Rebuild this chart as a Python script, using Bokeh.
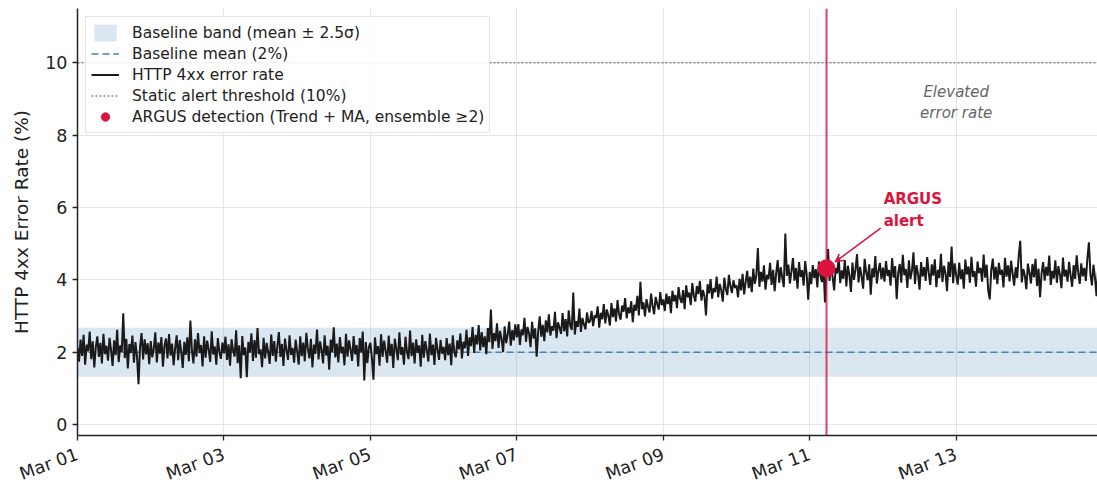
import math
import pandas as pd
from bokeh.plotting import figure
from bokeh.models import Span, Label, Arrow, OpenHead, FixedTicker, DatetimeTickFormatter
from bokeh.embed import file_html
from bokeh.resources import INLINE

# ---- data (30-minute HTTP 4xx error rate, %) ----
start = "2024-03-01 00:00"
step = "30min"
mar01 = [2.12,1.74,2.35,1.90,2.48,1.66,2.21,2.03,2.57,1.81,2.30,1.58,2.14,2.44,1.87,2.26,1.69,2.51,1.95,2.18,1.77,2.40,2.06,1.62,
         2.33,1.92,2.62,1.73,2.19,2.01,3.08,1.84,2.37,1.55,2.23,1.98,2.46,1.71,2.28,1.89,1.12,2.15,2.53,1.80,2.36,1.94,2.25,1.67]
mar02 = [2.31,1.86,2.09,2.55,1.72,2.27,1.96,2.42,1.60,2.17,2.38,1.83,2.50,1.91,2.24,1.64,2.11,2.47,1.78,2.34,2.02,1.57,2.29,1.93,
         2.41,1.75,2.88,2.05,1.69,2.36,1.88,2.53,1.98,2.20,1.61,2.44,1.85,2.32,2.07,1.73,2.58,1.94,2.16,1.66,2.39,2.01,1.82,2.27]
mar03 = [1.97,2.43,1.79,2.22,1.63,2.36,2.04,1.88,2.61,1.70,2.19,1.28,2.45,1.92,2.13,1.31,2.29,1.99,2.52,1.76,2.34,1.85,2.67,1.95,
         2.08,1.59,2.40,1.83,2.26,2.00,1.68,2.49,1.90,2.31,1.74,2.16,2.56,1.87,2.23,1.62,2.38,2.05,1.79,2.47,1.93,2.12,1.71,2.35]
mar04 = [2.02,1.66,2.44,1.89,2.27,1.75,2.54,2.10,1.83,2.37,1.58,2.21,1.96,2.63,1.80,2.30,2.06,1.69,2.47,1.91,2.18,1.52,2.35,2.01,
         2.69,1.86,2.24,1.72,2.42,1.97,2.15,1.64,2.51,1.88,2.33,2.07,1.76,2.45,1.94,2.20,1.61,2.39,1.99,2.57,1.22,2.28,1.70,2.14]
mar05 = [2.26,1.84,1.24,2.41,1.95,2.17,1.63,2.50,1.87,2.32,2.03,1.71,2.46,1.90,2.23,1.57,2.38,2.09,1.78,2.55,1.93,2.14,1.66,2.43,
         2.00,1.81,2.60,1.89,2.27,1.69,2.36,1.98,2.19,1.60,2.48,1.85,2.31,2.05,1.74,2.52,1.92,2.21,1.65,2.40,2.08,1.79,2.34,1.96]
mar06 = [2.15,1.78,2.39,1.92,2.24,1.64,2.47,2.01,1.86,2.33,2.08,2.52,1.83,2.29,2.11,2.62,1.90,2.41,2.17,2.70,1.98,2.48,2.22,2.75,
         2.05,2.56,2.14,2.44,1.95,2.67,2.28,3.18,2.09,2.53,2.31,2.80,2.12,2.59,2.36,2.01,2.72,2.25,2.49,2.85,2.18,2.61,2.33,2.77]
mar07 = [2.41,2.78,2.20,2.63,2.47,2.95,2.29,2.70,2.52,2.14,2.84,2.38,2.66,1.88,2.57,2.99,2.43,2.76,2.31,2.88,2.55,3.05,2.46,2.72,
         2.60,3.12,2.39,2.83,2.67,2.51,3.08,2.58,2.92,2.44,3.16,2.73,2.62,3.65,2.49,2.86,2.70,3.21,2.56,2.95,2.77,2.63,3.10,2.81]
mar08 = [2.86,3.14,2.72,3.02,2.95,3.27,2.68,3.09,2.91,3.33,2.80,3.18,3.01,2.74,3.36,2.97,3.21,2.85,3.44,3.06,2.90,3.29,3.12,3.50,
         2.94,3.24,3.08,3.41,2.83,3.31,3.15,3.56,3.02,3.95,3.19,3.38,2.99,3.47,3.25,3.10,3.62,3.28,3.05,3.53,3.34,3.18,3.66,3.30]
mar09 = [3.46,3.14,3.62,3.33,3.55,3.08,3.70,3.41,3.58,3.22,3.80,3.49,3.36,3.72,3.19,3.85,3.52,3.65,3.30,3.91,3.57,3.40,3.83,3.61,
         3.97,3.43,3.72,3.55,3.02,3.88,3.63,4.02,3.48,3.77,3.66,4.09,3.52,3.89,3.71,3.40,4.06,3.75,3.58,4.14,3.83,3.64,3.99,3.78]
mar10 = [3.85,3.52,4.03,3.71,4.17,3.60,3.94,4.25,3.77,4.09,3.66,4.31,3.89,4.12,4.88,3.81,4.22,3.95,4.40,3.73,4.14,4.02,4.47,3.86,
         4.28,3.69,4.19,4.55,3.92,4.35,4.06,3.80,5.28,4.11,4.42,3.90,4.24,4.60,3.98,4.33,3.76,4.49,4.08,4.27,3.84,4.52,4.15,3.45]
mar11 = [4.22,3.88,4.41,4.05,4.30,3.79,4.51,4.12,3.94,4.37,3.38,4.20,4.85,3.97,4.45,4.08,3.71,4.33,4.18,4.62,3.91,4.26,4.03,4.55,
         3.82,4.39,4.14,3.67,4.48,4.00,4.29,4.71,3.93,4.36,4.10,3.76,4.58,4.21,3.99,4.43,3.59,4.32,4.07,4.66,3.90,4.24,4.47,4.02]
mar12 = [4.34,3.95,4.52,4.11,4.27,3.84,4.60,4.06,4.38,3.47,4.19,4.44,3.92,4.69,4.13,4.30,3.78,4.54,4.02,4.25,4.76,3.89,4.41,4.16,
         3.73,4.49,4.09,4.35,3.97,4.63,4.20,3.86,4.43,4.12,4.57,3.80,4.28,4.05,4.72,3.94,4.39,4.18,3.69,4.50,4.08,4.92,3.91,4.46]
mar13 = [4.13,3.87,4.48,4.02,4.29,3.76,4.56,4.15,4.37,3.92,4.64,4.08,4.24,3.81,4.51,4.19,4.33,3.95,4.70,4.06,4.42,3.71,3.46,4.27,
         4.59,4.01,4.36,3.88,4.47,4.14,4.28,3.79,4.61,4.09,4.40,3.96,4.53,4.17,3.84,4.35,4.05,4.66,5.08,3.93,4.30,4.12,3.74,4.45]
mar14 = [4.21,3.90,4.44,4.07,4.58,3.83,4.31,3.52,4.19,4.49,3.98,4.36,4.11,4.67,3.86,4.25,4.04,4.54,3.92,4.38,4.15,3.77,4.62,4.09,
         4.28,3.95,4.50,4.13,3.81,4.41,4.03,4.68,4.20,3.89,4.46,4.10,4.33,3.97,4.59,5.04,4.16,3.85,4.42,4.06,3.55,4.27,4.00,4.35]

error_rate = mar01 + mar02 + mar03 + mar04 + mar05 + mar06 + mar07 + mar08 + mar09 + mar10 + mar11 + mar12 + mar13 + mar14
baseline_mean = 2.0
baseline_sigma = 0.27
band_k = 2.5
threshold = 10.0
alert_time = "2024-03-11 05:30"
alert_value = 4.32
tick_dates = ["2024-03-01", "2024-03-03", "2024-03-05", "2024-03-07", "2024-03-09", "2024-03-11", "2024-03-13"]
y_ticks = [0, 2, 4, 6, 8, 10]

# ---- build ----
times = pd.date_range(start, periods=len(error_rate), freq=step)
t0 = times[0]
t_end = t0 + pd.Timedelta(days=13.93)

def ms(t):
    return pd.Timestamp(t).value / 1e6

DAY = 86400000
FONT = "DejaVu Sans"
CRIMSON = "#dc143c"
INK = "#222222"

p = figure(frame_width=1020, frame_height=427, x_axis_type="datetime",
           x_range=(t0, t_end), y_range=(-0.3, 11.5),
           output_backend="svg", toolbar_location=None,
           min_border_left=77, min_border_right=0, min_border_top=8, min_border_bottom=52)
p.outline_line_color = None
p.background_fill_color = "white"

band_x = [t0, times[-1]]
p.varea(x=band_x, y1=[baseline_mean - band_k * baseline_sigma] * 2,
        y2=[baseline_mean + band_k * baseline_sigma] * 2,
        fill_color="#4682b4", fill_alpha=0.2,
        legend_label="Baseline band (mean \u00b1 2.5\u03c3)")
p.line(x=band_x, y=[baseline_mean] * 2, line_color="#4682b4", line_width=1.6,
       line_dash="7 4", legend_label="Baseline mean (2%)")
p.line(x=times, y=error_rate, line_color="#1a1a1a", line_width=2.0,
       legend_label="HTTP 4xx error rate")
p.line(x=[t0, t_end], y=[threshold] * 2, line_color="#808080", line_width=1.4,
       line_dash="2 2", line_alpha=0.9, legend_label="Static alert threshold (10%)")

p.add_layout(Span(location=ms(alert_time), dimension="height", line_color=CRIMSON,
                  line_width=2, line_alpha=0.8))
p.scatter(x=[pd.Timestamp(alert_time)], y=[alert_value], size=17, fill_color=CRIMSON,
          line_color=CRIMSON, legend_label="ARGUS detection (Trend + MA, ensemble \u22652)")

p.add_layout(Arrow(end=OpenHead(size=8, line_color=CRIMSON, line_width=1.5),
                   x_start=ms(alert_time) + 0.74 * DAY, y_start=5.43,
                   x_end=ms(alert_time) + 0.12 * DAY, y_end=4.5,
                   line_color=CRIMSON, line_width=1.5))
p.add_layout(Label(x=ms(alert_time) + 0.78 * DAY, y=5.93, text="ARGUS\nalert",
                   text_font=FONT, text_font_style="bold", text_font_size="15px",
                   text_color=CRIMSON, text_baseline="middle", text_align="left"))
p.add_layout(Label(x=ms("2024-03-13 00:00"), y=8.9, text="Elevated\nerror rate",
                   text_font=FONT, text_font_style="italic", text_font_size="15px",
                   text_color="#666666", text_baseline="middle", text_align="center"))

# axes
p.xaxis.ticker = FixedTicker(ticks=[ms(d) for d in tick_dates])
p.xaxis.formatter = DatetimeTickFormatter(days="%b %d", months="%b %d", hours="%b %d")
p.xaxis.major_label_orientation = math.radians(20)
p.xaxis.major_label_standoff = 13
p.yaxis.ticker = FixedTicker(ticks=y_ticks)
p.yaxis.axis_label = "HTTP 4xx Error Rate (%)"
p.yaxis.axis_label_text_font = FONT
p.yaxis.axis_label_text_font_style = "normal"
p.yaxis.axis_label_text_font_size = "18.5px"
p.yaxis.axis_label_text_color = INK
p.yaxis.axis_label_standoff = 10
for ax in (p.xaxis, p.yaxis):
    ax.major_label_text_font = FONT
    ax.major_label_text_font_size = "17.5px"
    ax.major_label_text_color = INK
    ax.axis_line_color = INK
    ax.axis_line_width = 1.5
    ax.major_tick_line_color = INK
    ax.major_tick_line_width = 1.3
    ax.major_tick_out = 5
    ax.major_tick_in = 0
    ax.minor_tick_line_color = None
p.grid.grid_line_color = "#e5e5e5"
p.grid.grid_line_width = 1

# legend
lg = p.legend[0]
lg.location = "top_left"
lg.margin = 8
lg.padding = 5
lg.spacing = 0
lg.label_height = 21
lg.glyph_height = 21
lg.glyph_width = 28
lg.label_standoff = 13
lg.label_text_font = FONT
lg.label_text_font_size = "15.5px"
lg.label_text_color = INK
lg.border_line_color = "#cccccc"
lg.border_line_width = 1
lg.background_fill_alpha = 0.85

open("out.html", "w").write(file_html(p, INLINE))
